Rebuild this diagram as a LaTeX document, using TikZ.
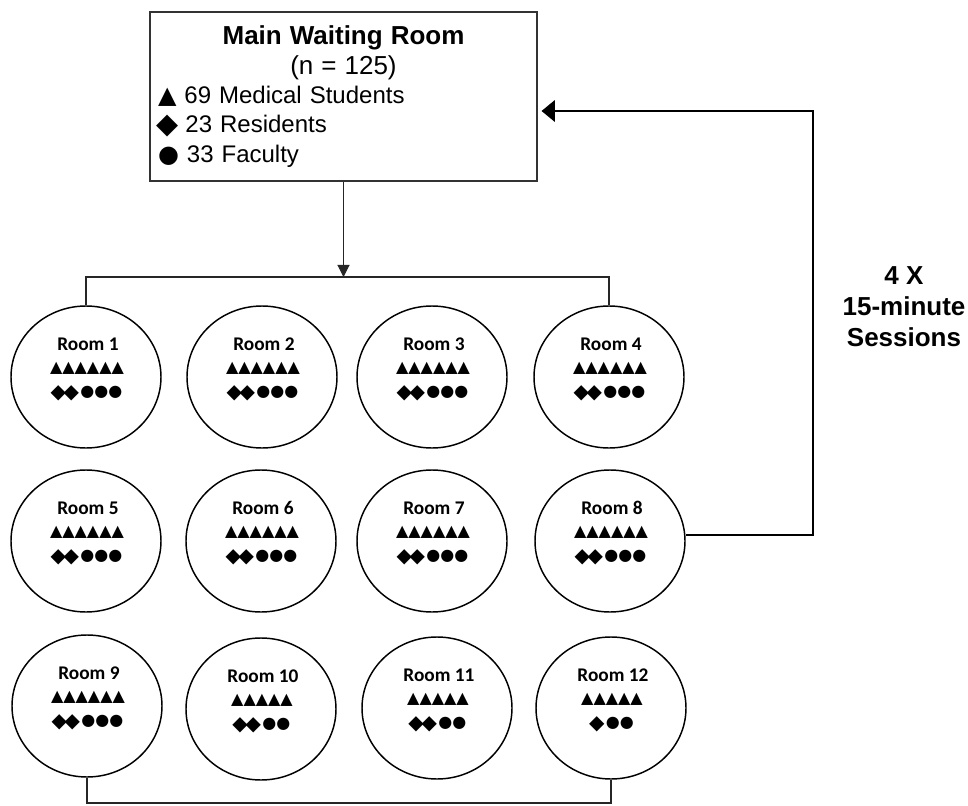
\documentclass[tikz,border=0pt]{standalone}
\usepackage{fontspec}
\setmainfont{Liberation Sans}
\newfontfamily\roomfont{Carlito}
\newfontfamily\symfont{DejaVu Sans}
\usetikzlibrary{arrows.meta,positioning,shapes.geometric}

\newcommand\bigdia{\makebox[14.6pt][c]{\symfont\fontsize{21.5}{22}\selectfont\raisebox{-0.9pt}{◆}}}
\newcommand\smalldia{\makebox[9.8pt][c]{\fontsize{15}{12}\selectfont\raisebox{-1.1pt}{◆}}}

\tikzset{>={Triangle[length=9pt,width=9pt]},
         room/.style={draw, ellipse, line width=1.1pt, minimum width=112.5pt,
                      minimum height=106.5pt, inner sep=0pt},
         roomlabel/.style={font=\roomfont\bfseries\fontsize{14.5}{16}\selectfont,
                           anchor=base, inner sep=0pt},
         roomsyms/.style={font=\symfont\fontsize{12}{12}\selectfont, inner sep=0pt},
         link/.style={draw=black!85, line width=0.8pt},
         feedback/.style={line width=1.9pt, shorten >=3pt,
                          -{Triangle[length=10pt,width=16pt]}}}

\begin{document}
\begin{tikzpicture}[x=0.75pt, y=-0.75pt]
  \useasboundingbox (0,0) rectangle (968,806);

  % waiting room
  \node (main) [draw=black!80, line width=0.8pt, minimum width=290.25pt,
                minimum height=126.75pt, text width=278.25pt, inner xsep=6pt,
                align=left, font=\fontsize{18}{22}\selectfont] at (343.5,96.5)
    {{\centering\fontsize{19.5}{22}\selectfont\textbf{Main Waiting Room}\\(n = 125)\par}
     {\symfont ▲} 69 Medical Students\\
     \bigdia{} 23 Residents\\
     {\symfont ●} 33 Faculty};

  % rooms
  \foreach \n/\x/\y/\t/\d/\c in {1/86/377/6/2/3, 2/262/377/6/2/3,
      3/432/377/6/2/3, 4/609/377/6/2/3, 5/86/541/6/2/3, 6/261/541/6/2/3,
      7/432/541/6/2/3, 8/610/541/6/2/3, 9/87/706/6/2/3, 10/261/709/5/2/2,
      11/437/708/5/2/2, 12/611/708/5/1/2} {
    \node (r\n) [room] at (\x,\y) {};
    \node (r\n-name) [roomlabel] at (\x+2,\y-27) {Room \n};
    \node (r\n-up) [roomsyms] at (\x+1,\y-9) {\foreach \i in {1,...,\t}{▲}};
    \node (r\n-dn) [roomsyms] at (\x+1,\y+16)
      {\foreach \i in {1,...,\d}{\smalldia}\hspace{2pt}\foreach \i in {1,...,\c}{●}};
  }

  \node (sess) [font=\bfseries\fontsize{19.5}{23.25}\selectfont, align=center]
    at (904,307) {4 X\\15-minute\\Sessions};

  % connectors
  \coordinate (split) at (343.5,277);
  \coordinate (join) at (343.5,803);
  \coordinate (turn) at (813,111);
  \draw[link,->] (main) -- (split);
  \draw[link] (r1) |- (split) -| (r4);
  \draw[link] (r9) |- (join) -| (r12);
  \draw[feedback] ([yshift=4.5pt]r8.east) -| (turn) -- (main.east |- turn);
\end{tikzpicture}
\end{document}
